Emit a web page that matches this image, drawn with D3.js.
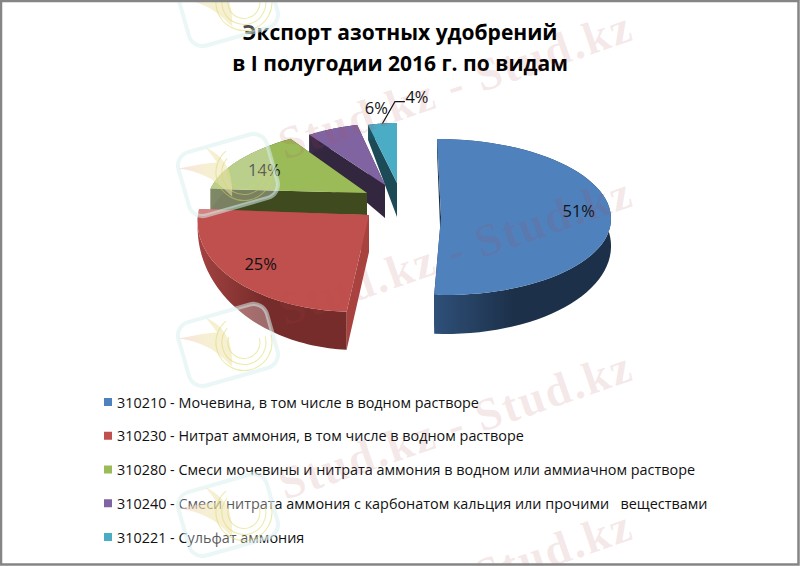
<!DOCTYPE html>
<html>
<head>
<meta charset="utf-8">
<script src="https://cdn.jsdelivr.net/npm/d3@7"></script>
<style>
  html, body { margin: 0; padding: 0; background: #fff; }
  svg { display: block; }
  text { font-family: "Open Sans", sans-serif; }
</style>
</head>
<body>
<div class="chart"></div>
<script>
// data
const codes = ["310210", "310230", "310280", "310240", "310221"];
const names = [
  "Мочевина, в том числе в водном растворе",
  "Нитрат аммония, в том числе в водном растворе",
  "Смеси мочевины и нитрата аммония в водном или аммиачном растворе",
  "Смеси нитрата аммония с карбонатом кальция или прочими   веществами",
  "Сульфат аммония"
];
const shares = [51, 25, 14, 6, 4];
const titleLines = ["Экспорт азотных удобрений", "в I полугодии 2016 г. по видам"];

// looks
const topColors = ["#4f81bd", "#c0504d", "#9bbb59", "#8064a2", "#4bacc6"];
const rimColors = [["#2f5079", "#1c3049"], ["#a34341", "#762c2b"], ["#4a5726", "#3d4a1e"], ["#3a2b4a", "#32253f"], ["#1f5463", "#1b4753"]];
const edgeColors = ["#1b2f47", "#a8423f", "#3f4b1f", "#33263f", "#1d4a57"];

// every slice is pulled out on its own and seen at its own angle
const layout = [
  { cx: 441, cy: 217, rx: 170, ry: 78, skew: 0.05, apexDepth: 33, rimDepth: 27, frontDepth: 12, labelR: 0.81, labelDx: 0, labelDy: -8 },
  { cx: 369, cy: 215, rx: 171, ry: 97, skew: -0.12, apexDepth: 37, rimDepth: 3, frontDepth: 35, labelR: 0.76, labelDx: -5, labelDy: 0 },
  { cx: 367, cy: 193, rx: 158, ry: 67, skew: -0.3, apexDepth: 22, rimDepth: 22, frontDepth: 0, labelR: 0.72, labelDx: -10, labelDy: 0 },
  { cx: 385, cy: 185, rx: 138, ry: 62, skew: -0.108, apexDepth: 33, rimDepth: 19, frontDepth: 0, labelR: 1.38, labelDx: 64, labelDy: 0 },
  { cx: 397, cy: 183, rx: 116, ry: 60, skew: 0, apexDepth: 34, rimDepth: 15, frontDepth: 0, labelR: 1.45, labelDx: 41, labelDy: 0 }
];

const width = 800, height = 566;

const svg = d3.select(".chart").append("svg")
  .attr("width", width)
  .attr("height", height);

const color = d3.scaleOrdinal().domain(codes).range(topColors);
const pie = d3.pie().sort(null);
const slices = pie(shares).map((d, i) => ({ ...d, i, code: codes[i], l: layout[i] }));

function project(l, angle, r) {
  const dx = l.rx * r * Math.sin(angle);
  const dy = -l.ry * r * Math.cos(angle);
  return [l.cx + dx + l.skew * dy, l.cy + dy];
}

function rimDrop(l, angle) {
  return Math.max(0, l.rimDepth - l.frontDepth * Math.cos(angle));
}

const path = d3.line();

function rimAngles(d) {
  return d3.range(0, 61).map(k => d.startAngle + (d.endAngle - d.startAngle) * k / 60);
}

const defs = svg.append("defs");
slices.forEach(d => {
  const g = defs.append("linearGradient").attr("id", "rim" + d.i);
  g.append("stop").attr("offset", "0%").attr("stop-color", rimColors[d.i][0]);
  g.append("stop").attr("offset", "45%").attr("stop-color", rimColors[d.i][1]);
});
const wingFill = defs.append("linearGradient").attr("id", "wing");
wingFill.append("stop").attr("offset", "0%").attr("stop-color", "#f4c9c4");
wingFill.append("stop").attr("offset", "55%").attr("stop-color", "#efe3ae");

// back slices first so that the front ones cover them
const drawOrder = [4, 3, 2, 0, 1];
const pieGroup = svg.append("g");

drawOrder.forEach(i => {
  const d = slices[i];
  const l = d.l;
  const g = pieGroup.append("g").attr("class", "slice");
  const apex = [l.cx, l.cy];
  const apexLow = [l.cx, l.cy + l.apexDepth];

  // straight cut walls
  [d.startAngle, d.endAngle].forEach(a => {
    const p = project(l, a, 1);
    const drop = rimDrop(l, a);
    g.append("path")
      .attr("d", path([apex, p, [p[0], p[1] + drop], apexLow]) + "Z")
      .attr("fill", edgeColors[i]);
  });

  // outer wall
  const angles = rimAngles(d);
  const upper = angles.map(a => project(l, a, 1));
  const lower = angles.map(a => {
    const p = project(l, a, 1);
    return [p[0], p[1] + rimDrop(l, a)];
  }).reverse();
  g.append("path")
    .attr("d", path(upper.concat(lower)) + "Z")
    .attr("fill", `url(#rim${i})`);

  // top face
  g.append("path")
    .attr("d", path([apex].concat(upper)) + "Z")
    .attr("fill", color(d.code));
});

// data labels
const labelPoints = slices.map(d => {
  const mid = (d.startAngle + d.endAngle) / 2;
  const p = project(d.l, mid, d.l.labelR);
  return [p[0] + d.l.labelDx, p[1] + d.l.labelDy];
});

svg.append("g").selectAll("text")
  .data(slices)
  .enter()
  .append("text")
  .attr("x", (d, i) => labelPoints[i][0])
  .attr("y", (d, i) => labelPoints[i][1])
  .attr("text-anchor", "middle")
  .attr("dominant-baseline", "central")
  .attr("font-size", 16.5)
  .attr("fill", "#111")
  .text(d => d.value + "%");

// leader of the smallest slice
const leaderFrom = project(slices[4].l, (slices[4].startAngle + slices[4].endAngle) / 2, 1);
const leaderTo = labelPoints[4];
svg.append("path")
  .attr("d", path([leaderFrom, [leaderTo[0] - 22, leaderTo[1] + 5], [leaderTo[0] - 12, leaderTo[1] + 5]]))
  .attr("fill", "none")
  .attr("stroke", "#111")
  .attr("stroke-width", 1.2);

// title
svg.append("g").selectAll("text")
  .data(titleLines)
  .enter()
  .append("text")
  .attr("x", 400)
  .attr("y", (d, i) => 40 + i * 30.5)
  .attr("text-anchor", "middle")
  .attr("font-size", 21)
  .attr("font-weight", "bold")
  .attr("fill", "#000")
  .text(d => d);

// legend
const legendY = d3.scalePoint().domain(codes).range([402, 537]);
const legend = svg.append("g").selectAll("g")
  .data(codes)
  .enter()
  .append("g")
  .attr("transform", d => `translate(104, ${legendY(d)})`);

legend.append("rect")
  .attr("y", -4)
  .attr("width", 8)
  .attr("height", 8)
  .attr("fill", d => color(d));

legend.append("text")
  .attr("x", 13)
  .attr("y", 5.5)
  .attr("font-size", 14.4)
  .attr("fill", "#111")
  .attr("xml:space", "preserve")
  .text((d, i) => `${d} - ${names[i]}`);

// watermark over everything
const mark = svg.append("g").attr("class", "watermark");

[5, 175, 345, 515].forEach(y => {
  const logo = mark.append("g").attr("transform", `translate(228, ${y}) rotate(-16)`);
  logo.append("rect")
    .attr("x", -46).attr("y", -33)
    .attr("width", 92).attr("height", 66)
    .attr("rx", 14)
    .attr("fill", "rgba(255,255,255,0.3)")
    .attr("stroke", "#d8f0ef")
    .attr("stroke-opacity", 0.55)
    .attr("stroke-width", 4);
  logo.append("path")
    .attr("d", "M-46,-20 C-30,-18 -18,-18 -7,-15 C-10,-24 -12,-28 -14,-33 C-2,-22 8,-8 -2,22 C-10,8 -18,-8 -46,-20Z")
    .attr("fill", "url(#wing)")
    .attr("fill-opacity", 0.55);
  [[28, "120 56"], [22, "90 48"], [16, "60 40"]].forEach(c => {
    logo.append("circle")
      .attr("cx", 16).attr("cy", 2)
      .attr("r", c[0])
      .attr("fill", "none")
      .attr("stroke", "#d8d85a")
      .attr("stroke-opacity", 0.5)
      .attr("stroke-dasharray", c[1]);
  });
});

[[285, 160], [285, 326], [285, 500], [285, 659]].forEach(p => {
  mark.append("text")
    .attr("transform", `translate(${p[0]}, ${p[1]}) rotate(-19)`)
    .attr("font-size", 46)
    .attr("font-weight", "bold")
    .attr("letter-spacing", 2)
    .attr("fill", "#b04848")
    .attr("fill-opacity", 0.12)
    .style("font-family", "'Liberation Serif', serif")
    .text("Stud.kz - Stud.kz");
});

// picture frame
svg.append("rect")
  .attr("x", 1).attr("y", 1)
  .attr("width", width - 2.5).attr("height", height - 2.5)
  .attr("fill", "none")
  .attr("stroke", "#858585")
  .attr("stroke-width", 2.5);
</script>
</body>
</html>
